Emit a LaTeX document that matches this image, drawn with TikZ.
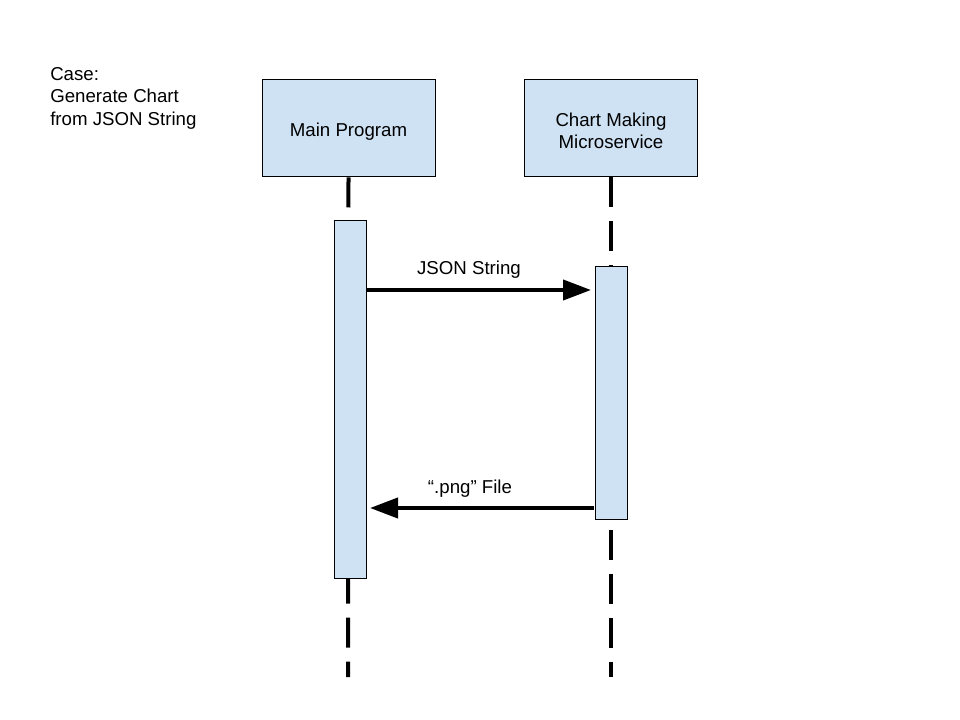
\documentclass[tikz,border=0pt]{standalone}
\usepackage{fontspec}
\setmainfont{Liberation Sans}
\usetikzlibrary{arrows.meta}
\definecolor{boxblue}{HTML}{CFE2F3}
\begin{document}
\begin{tikzpicture}[x=0.75pt,y=-0.75pt,
  every node/.style={font=\fontsize{14}{16.8}\selectfont, text=black},
  actor/.style={draw=black, line width=0.75pt, fill=boxblue, minimum width=129.75pt, minimum height=72.75pt, align=center, inner sep=0pt},
  actbar/.style={draw=black, line width=0.75pt, fill=boxblue},
  lifeline/.style={line width=3pt, dash pattern=on 22.5pt off 10.5pt},
  msg/.style={line width=3pt, -{Triangle[length=21pt,width=15pt]}},
  lbl/.style={inner sep=0pt}]
\useasboundingbox (0,0) rectangle (960,720);
% actors
\node[actor] (main) at (348.5,128.5) {\raisebox{-2.2pt}[\height][\depth]{Main Program}};
\node[actor] (chart) at (611,128.5) {\raisebox{-3.6pt}[\height][\depth]{\begin{tabular}{@{}c@{}}Chart Making\\Microservice\end{tabular}}};
% lifelines
\coordinate (mainend) at (348,677);
\coordinate (chartend) at (611,677);
\draw[lifeline] (main.south) -- (mainend);
\draw[lifeline] (chart.south) -- (chartend);
% activation bars
\draw[actbar] (334,221) rectangle (366,578);
\draw[actbar] (595,267) rectangle (627,519);
\coordinate (a1s) at (366,290);
\coordinate (a1e) at (591,290);
\coordinate (a2s) at (594,508);
\coordinate (a2e) at (370,508);
\draw[msg] (a1s) -- (a1e);
\draw[msg] (a2s) -- (a2e);
% labels
\node[lbl] (l1) at (469,270) {JSON String};
\node[lbl] (l2) at (470,489) {“.png” File};
\node[lbl, anchor=north west, align=left, font=\fontsize{14}{17}\selectfont] (case) at (50,67) {Case:\\Generate Chart\\from JSON String};
\end{tikzpicture}
\end{document}
